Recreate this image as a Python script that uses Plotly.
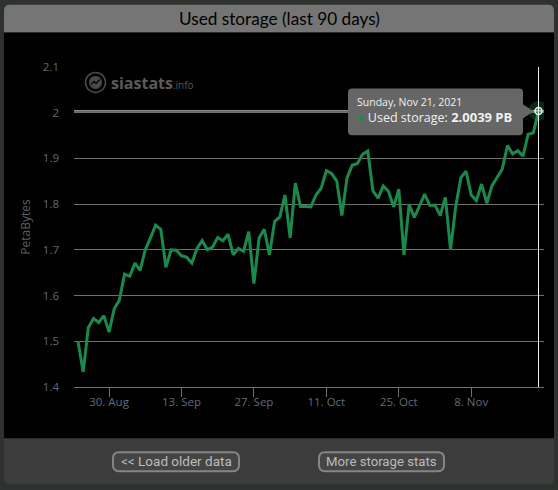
import datetime as dt

import plotly.graph_objects as go

# Used storage, daily values (PB)
start_date = dt.date(2021, 8, 24)
used_storage = [
    1.500, 1.433, 1.530, 1.550, 1.541, 1.556, 1.520, 1.571, 1.590, 1.647,
    1.642, 1.671, 1.655, 1.700, 1.726, 1.754, 1.745, 1.662, 1.700, 1.699,
    1.687, 1.684, 1.671, 1.703, 1.720, 1.700, 1.706, 1.727, 1.720, 1.734,
    1.689, 1.703, 1.697, 1.740, 1.626, 1.726, 1.745, 1.689, 1.762, 1.772,
    1.820, 1.726, 1.846, 1.795, 1.795, 1.794, 1.820, 1.835, 1.873, 1.867,
    1.851, 1.775, 1.858, 1.885, 1.889, 1.909, 1.916, 1.829, 1.813, 1.840,
    1.828, 1.794, 1.833, 1.689, 1.799, 1.771, 1.796, 1.822, 1.797, 1.798,
    1.775, 1.815, 1.700, 1.795, 1.858, 1.872, 1.820, 1.808, 1.844, 1.802,
    1.840, 1.860, 1.877, 1.928, 1.910, 1.917, 1.905, 1.953, 1.956, 2.0039,
]
dates = [start_date + dt.timedelta(days=i) for i in range(len(used_storage))]

y_ticks = [1.4, 1.5, 1.6, 1.7, 1.8, 1.9, 2.0, 2.1]
y_tick_labels = ["1.4", "1.5", "1.6", "1.7", "1.8", "1.9", "2", "2.1"]
x_ticks = ["2021-08-30", "2021-09-13", "2021-09-27", "2021-10-11", "2021-10-25", "2021-11-08"]
x_tick_labels = ["30. Aug", "13. Sep", "27. Sep", "11. Oct", "25. Oct", "8. Nov"]

W, H = 558, 490
L, R, T, B = 74, 14, 66.5, 102.5
GREEN = "#1a8a4c"


# paper coords are relative to the plot area, so convert from page pixels
def px(x):
    return (x - L) / (W - L - R)


def py(y):
    return (H - B - y) / (H - T - B)


def rounded(x0, y0, x1, y1, tl=0, tr=0, br=0, bl=0):
    def p(x, y):
        return f"{px(x):.5f},{py(y):.5f}"
    return (
        f"M{p(x0 + tl, y0)} L{p(x1 - tr, y0)} Q{p(x1, y0)} {p(x1, y0 + tr)} "
        f"L{p(x1, y1 - br)} Q{p(x1, y1)} {p(x1 - br, y1)} "
        f"L{p(x0 + bl, y1)} Q{p(x0, y1)} {p(x0, y1 - bl)} "
        f"L{p(x0, y0 + tl)} Q{p(x0, y0)} {p(x0 + tl, y0)} Z"
    )


def box(path, fill, line=None, width=0, layer="below"):
    return dict(type="path", xref="paper", yref="paper", path=path, fillcolor=fill,
                line=dict(color=line or fill, width=width), layer=layer)


def label(x, y, text, size, color, family="Roboto", anchor="center"):
    return dict(xref="paper", yref="paper", x=px(x), y=py(y), text=text, showarrow=False,
                xanchor=anchor, yanchor="middle", align="left",
                font=dict(family=family, size=size, color=color))


fig = go.Figure()

fig.add_trace(go.Scatter(x=dates, y=used_storage, mode="lines",
                         line=dict(color=GREEN, width=3), hoverinfo="skip"))
# halo and marker on the last point
fig.add_trace(go.Scatter(x=dates[-1:], y=used_storage[-1:], mode="markers",
                         marker=dict(color="rgba(26,138,76,0.3)", size=20), hoverinfo="skip"))
fig.add_trace(go.Scatter(x=dates[-1:], y=used_storage[-1:], mode="markers",
                         marker=dict(color=GREEN, size=7, line=dict(color="#e8e8e8", width=1.5)),
                         hoverinfo="skip"))

shapes = [
    box(rounded(4, 4, 554, 485, 6, 6, 6, 6), "#3c3c3c"),
    box(rounded(4, 4, 554, 32, 6, 6), "#757575"),
    box(rounded(4, 32, 554, 439), "#000000"),
    # buttons
    box(rounded(113, 453, 239, 472, 6, 6, 6, 6), "#454545", "#858585", 2),
    box(rounded(319, 453, 444, 472, 6, 6, 6, 6), "#454545", "#858585", 2),
    # crosshair
    dict(type="line", xref="x", yref="paper", x0=dates[-1], x1=dates[-1], y0=0, y1=1,
         line=dict(color="#f0f0f0", width=1), layer="above"),
    dict(type="line", xref="paper", yref="y", x0=0, x1=1, y0=used_storage[-1], y1=used_storage[-1],
         line=dict(color="#f0f0f0", width=1), layer="above"),
    # tooltip
    box(rounded(348, 88, 523, 135, 4, 4, 4, 4), "#666666", layer="above"),
    box(f"M{px(523):.5f},{py(104):.5f} L{px(534):.5f},{py(111):.5f} L{px(523):.5f},{py(118):.5f} Z",
        "#666666", layer="above"),
    # logo
    dict(type="circle", xref="paper", yref="paper", x0=px(85.5), x1=px(105.5), y0=py(92), y1=py(72),
         line=dict(color="#4a4a4a", width=1.5), layer="below"),
    dict(type="circle", xref="paper", yref="paper", x0=px(89), x1=px(102), y0=py(88.5), y1=py(75.5),
         fillcolor="#4a4a4a", line=dict(color="#4a4a4a", width=0), layer="below"),
    dict(type="path", xref="paper", yref="paper", layer="below",
         path=f"M{px(91):.5f},{py(84):.5f} L{px(94):.5f},{py(81):.5f} L{px(96):.5f},{py(83):.5f} L{px(100):.5f},{py(79):.5f}",
         line=dict(color="#000000", width=1.2)),
]

annotations = [
    label(279, 18, "Used storage (last 90 days)", 17.2, "#000000", "Lato"),
    label(176, 462, "&lt;&lt; Load older data", 13.5, "#bcbcbc", "Roboto"),
    label(381.5, 462, "More storage stats", 13.2, "#bcbcbc", "Roboto"),
    label(109, 83, "<b>siastats</b><span style='font-size:10px'>.info</span>", 16, "#5a5a5a",
          "Open Sans", "left"),
    label(354.5, 102, "Sunday, Nov 21, 2021", 10.5, "#f0f0f0", "Open Sans", "left"),
    label(355, 117, f"<span style='color:{GREEN}'>●</span> Used storage: "
          "<b><span style='font-size:13px'>2.0039 PB</span></b>", 12.5,
          "#f0f0f0", "Open Sans", "left"),
]

fig.update_layout(
    width=W,
    height=H,
    margin=dict(l=L, r=R, t=T, b=B, autoexpand=False),
    paper_bgcolor="#2d322f",
    plot_bgcolor="rgba(0,0,0,0)",
    showlegend=False,
    shapes=shapes,
    annotations=annotations,
    font=dict(family="Open Sans"),
    xaxis=dict(
        type="date",
        range=["2021-08-23 05:30", "2021-11-22 01:30"],
        tickmode="array",
        tickvals=x_ticks,
        ticktext=x_tick_labels,
        ticks="outside",
        ticklen=9,
        tickcolor="#707070",
        tickwidth=1,
        ticklabelstandoff=-5,
        showgrid=False,
        showline=True,
        linecolor="#707070",
        linewidth=1,
        zeroline=False,
        tickfont=dict(family="Open Sans", size=11.5, color="#5f6b78"),
    ),
    yaxis=dict(
        range=[1.4, 2.1],
        tickmode="array",
        tickvals=y_ticks,
        ticktext=y_tick_labels,
        gridcolor="#707070",
        gridwidth=1,
        zeroline=False,
        showline=False,
        ticklabelstandoff=14,
        tickfont=dict(family="Open Sans", size=11.5, color="#5f6b78"),
        title=dict(text="PetaBytes", standoff=9,
                   font=dict(family="Open Sans", size=12, color="#5e5e5e")),
    ),
)

fig.write_html(
    "out.html",
    config=dict(displayModeBar=False),
    post_script="document.body.style.margin='0';document.body.style.overflow='hidden';",
)
